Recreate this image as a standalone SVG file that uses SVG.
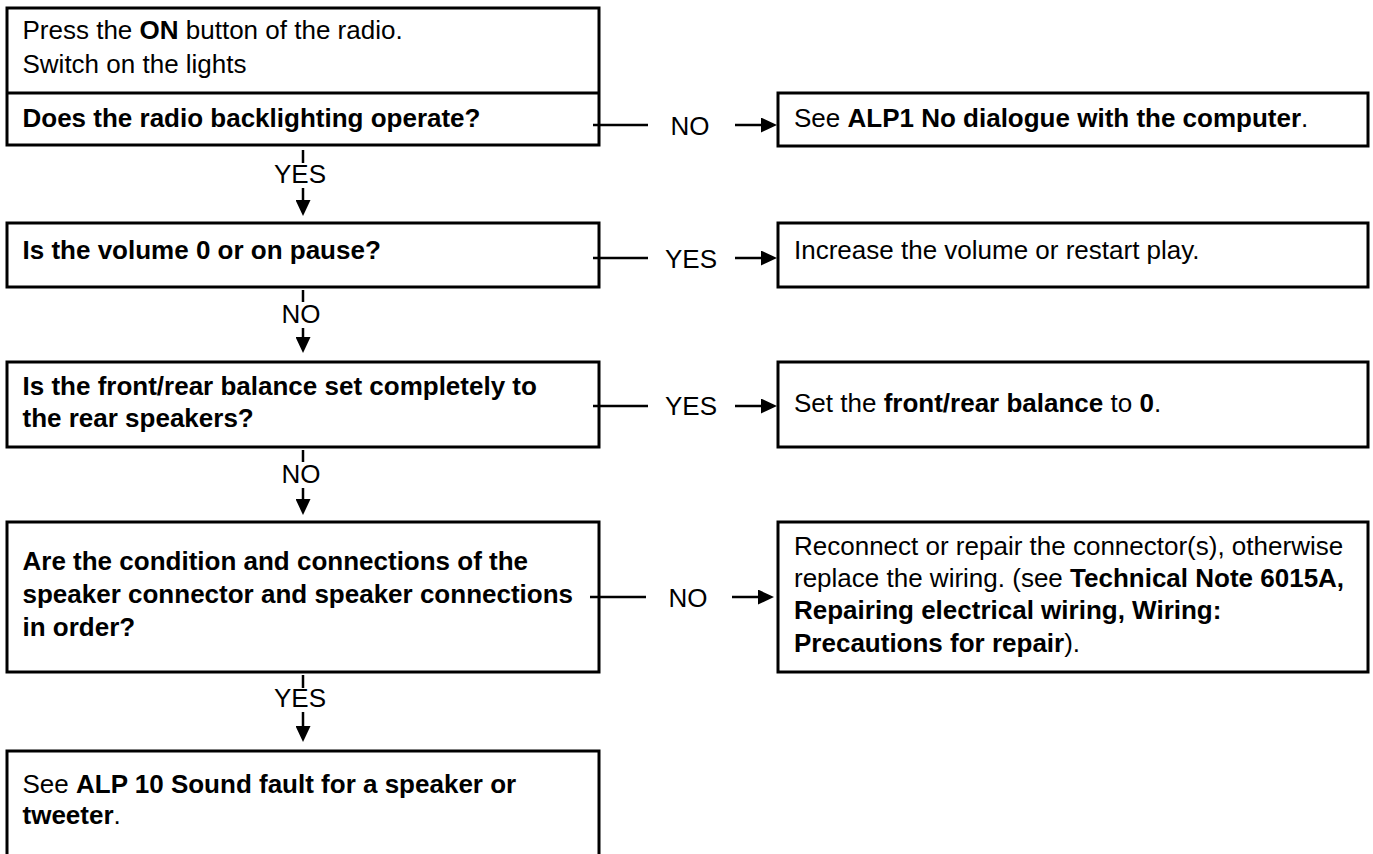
<svg xmlns="http://www.w3.org/2000/svg" width="1373" height="854" viewBox="0 0 1373 854">
  <style>
    .box { fill: #ffffff; stroke: #000000; stroke-width: 3; }
    .t { font-family: "Liberation Sans", Arial, Helvetica, sans-serif; font-size: 26px; fill: #000000; }
    .b { font-weight: bold; }
    .lbl { font-family: "Liberation Sans", Arial, Helvetica, sans-serif; font-size: 26px; fill: #000000; text-anchor: middle; }
    .ln { stroke: #000000; stroke-width: 2.5; fill: none; }
    .ar { stroke: #000000; stroke-width: 2.5; fill: none; marker-end: url(#arrow); }
  </style>
  <defs>
    <marker id="arrow" markerUnits="userSpaceOnUse" markerWidth="16" markerHeight="15" refX="6" refY="7.5" orient="auto">
      <path d="M0,0 L16,7.5 L0,15 Z" fill="#000000"/>
    </marker>
  </defs>
  <rect width="1373" height="854" fill="#ffffff"/>

  <g id="start">
    <rect class="box" x="7" y="8" width="592" height="137"/>
    <line x1="7" y1="93" x2="599" y2="93" stroke="#000000" stroke-width="3"/>
    <text class="t" x="22.5" y="39">Press the <tspan class="b">ON</tspan> button of the radio.</text>
    <text class="t" x="22.5" y="73">Switch on the lights</text>
    <text class="t b" x="22.5" y="127">Does the radio backlighting operate?</text>
  </g>

  <g id="alp1">
    <rect class="box" x="778" y="93" width="590" height="53"/>
    <text class="t" x="794" y="127">See <tspan class="b">ALP1 No dialogue with the computer</tspan>.</text>
  </g>

  <g id="volume">
    <rect class="box" x="7" y="223" width="592" height="64"/>
    <text class="t b" x="22.5" y="259">Is the volume 0 or on pause?</text>
  </g>

  <g id="increase">
    <rect class="box" x="778" y="223" width="590" height="64"/>
    <text class="t" x="794" y="259">Increase the volume or restart play.</text>
  </g>

  <g id="balance">
    <rect class="box" x="7" y="362" width="592" height="85"/>
    <text class="t b" x="22.5" y="395">Is the front/rear balance set completely to</text>
    <text class="t b" x="22.5" y="427">the rear speakers?</text>
  </g>

  <g id="setbalance">
    <rect class="box" x="778" y="362" width="590" height="85"/>
    <text class="t" x="794" y="412">Set the <tspan class="b">front/rear balance</tspan> to <tspan class="b">0</tspan>.</text>
  </g>

  <g id="connections">
    <rect class="box" x="7" y="522" width="592" height="150"/>
    <text class="t b" x="22.5" y="570">Are the condition and connections of the</text>
    <text class="t b" x="22.5" y="603">speaker connector and speaker connections</text>
    <text class="t b" x="22.5" y="636">in order?</text>
  </g>

  <g id="repair">
    <rect class="box" x="778" y="522" width="590" height="150"/>
    <text class="t" x="794" y="555">Reconnect or repair the connector(s), otherwise</text>
    <text class="t" x="794" y="587">replace the wiring. (see <tspan class="b">Technical Note 6015A,</tspan></text>
    <text class="t b" x="794" y="619">Repairing electrical wiring, Wiring:</text>
    <text class="t" x="794" y="652"><tspan class="b">Precautions for repair</tspan>).</text>
  </g>

  <g id="alp10">
    <rect class="box" x="7" y="751" width="592" height="130"/>
    <text class="t" x="22.5" y="793">See <tspan class="b">ALP 10 Sound fault for a speaker or</tspan></text>
    <text class="t" x="22.5" y="824"><tspan class="b">tweeter</tspan>.</text>
  </g>

  <g id="connectors">
    <!-- vertical -->
    <line class="ln" x1="303" y1="150" x2="303" y2="163"/>
    <text class="lbl" x="300" y="183">YES</text>
    <line class="ar" x1="303" y1="188" x2="303" y2="206"/>

    <line class="ln" x1="303" y1="290" x2="303" y2="302"/>
    <text class="lbl" x="301" y="323">NO</text>
    <line class="ar" x1="303" y1="328" x2="303" y2="343"/>

    <line class="ln" x1="303" y1="450" x2="303" y2="462"/>
    <text class="lbl" x="301" y="483">NO</text>
    <line class="ar" x1="303" y1="488" x2="303" y2="505"/>

    <line class="ln" x1="303" y1="675" x2="303" y2="688"/>
    <text class="lbl" x="300" y="707">YES</text>
    <line class="ar" x1="303" y1="712" x2="303" y2="732"/>

    <!-- horizontal -->
    <line class="ln" x1="593" y1="125" x2="648" y2="125"/>
    <text class="lbl" x="690" y="135">NO</text>
    <line class="ar" x1="735" y1="125" x2="767" y2="125"/>

    <line class="ln" x1="593" y1="258" x2="648" y2="258"/>
    <text class="lbl" x="691" y="268">YES</text>
    <line class="ar" x1="735" y1="258" x2="767" y2="258"/>

    <line class="ln" x1="593" y1="406" x2="648" y2="406"/>
    <text class="lbl" x="691" y="415">YES</text>
    <line class="ar" x1="735" y1="406" x2="767" y2="406"/>

    <line class="ln" x1="590" y1="597" x2="646" y2="597"/>
    <text class="lbl" x="688" y="607">NO</text>
    <line class="ar" x1="732" y1="597" x2="764" y2="597"/>
  </g>
</svg>
